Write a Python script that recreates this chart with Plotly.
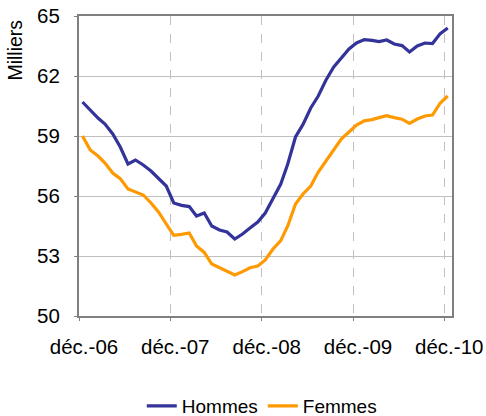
import pandas as pd
import plotly.graph_objects as go

# Monthly series, Dec 2006 -> Dec 2010 (thousands)
dates = pd.date_range("2006-12-01", periods=49, freq="MS") + pd.Timedelta(days=14)
hommes = [60.7, 60.3, 59.9, 59.6, 59.1, 58.45, 57.6, 57.8, 57.55, 57.25, 56.9, 56.5,
          55.65, 55.53, 55.47, 55.0, 55.15, 54.5, 54.3, 54.2, 53.85, 54.1, 54.4, 54.7,
          55.15, 55.9, 56.6, 57.6, 58.95, 59.58, 60.4, 61.0, 61.8, 62.45, 62.9, 63.35,
          63.65, 63.82, 63.78, 63.72, 63.8, 63.6, 63.52, 63.2, 63.5, 63.65, 63.62, 64.12, 64.4]
femmes = [59.0, 58.3, 58.0, 57.65, 57.15, 56.87, 56.35, 56.2, 56.05, 55.65, 55.2, 54.6,
          54.03, 54.08, 54.15, 53.5, 53.18, 52.6, 52.4, 52.25, 52.05, 52.22, 52.41, 52.5,
          52.8, 53.35, 53.77, 54.5, 55.6, 56.1, 56.5, 57.2, 57.75, 58.3, 58.85, 59.2,
          59.55, 59.76, 59.82, 59.92, 60.02, 59.92, 59.84, 59.63, 59.85, 60.0, 60.05, 60.65, 61.0]
tick_dates = ["2006-12-01", "2007-12-01", "2008-12-01", "2009-12-01", "2010-12-01"]
tick_labels = ["déc.-06", "déc.-07", "déc.-08", "déc.-09", "déc.-10"]
y_ticks = [50, 53, 56, 59, 62, 65]

font = "Liberation Sans, Arial, sans-serif"
fs = 19.5

fig = go.Figure()
fig.add_trace(go.Scatter(x=dates, y=hommes, name="Hommes", mode="lines",
                         line=dict(color="#333399", width=3.2)))
fig.add_trace(go.Scatter(x=dates, y=femmes, name="Femmes", mode="lines",
                         line=dict(color="#FF9900", width=3.2)))

fig.update_layout(
    width=486, height=416,
    margin=dict(l=79, r=34, t=16, b=100, autoexpand=False),
    paper_bgcolor="white", plot_bgcolor="white",
    font=dict(family=font, size=fs, color="#000000"),
    showlegend=True,
    legend=dict(orientation="h", x=0.49, xanchor="center",
                yref="container", y=0.024, yanchor="middle",
                font=dict(size=19), itemwidth=30, tracegroupgap=0),
    annotations=[dict(text="Milliers", textangle=-90, xref="paper", yref="paper",
                      x=-0.174, y=0.885, xanchor="center", yanchor="middle",
                      showarrow=False, font=dict(size=fs))],
)
fig.update_xaxes(
    type="date", range=["2006-12-01", "2011-01-01"], automargin=False,
    tickmode="array", tickvals=tick_dates, ticktext=tick_labels,
    tickfont=dict(size=20.5),
    showgrid=True, gridcolor="#c0c0c0", griddash="dash", gridwidth=1,
    showline=True, linecolor="#808080", linewidth=2, mirror=True,
    ticks="outside", ticklen=3, tickcolor="#808080",
    ticklabelshift=5, ticklabelstandoff=8, zeroline=False,
)
fig.update_yaxes(
    range=[50, 65], tickmode="array", tickvals=y_ticks, automargin=False,
    tickfont=dict(size=20.5),
    showgrid=True, gridcolor="#c0c0c0", gridwidth=1,
    showline=True, linecolor="#808080", linewidth=2, mirror=True,
    ticks="outside", ticklen=3, tickcolor="#808080", ticklabelstandoff=10,
    zeroline=False,
)

fig.write_html("out.html", config={"displayModeBar": False},
               post_script="document.body.style.margin='0';document.body.style.overflow='hidden';")
